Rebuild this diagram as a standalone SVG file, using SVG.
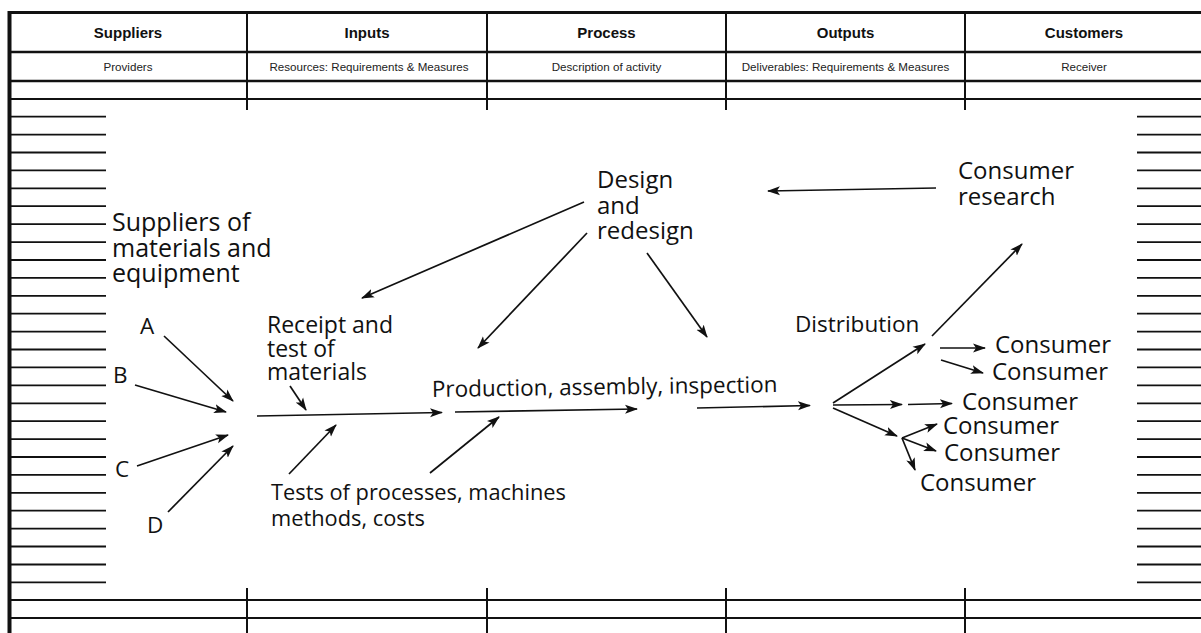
<svg xmlns="http://www.w3.org/2000/svg" width="1201" height="633" viewBox="0 0 1201 633">
<defs>
<style>
.hd{font-family:"Liberation Sans",Arial,sans-serif;font-weight:bold;font-size:15px;fill:#111;text-anchor:middle}
.sb{font-family:"Liberation Sans",Arial,sans-serif;font-size:11.6px;fill:#222;text-anchor:middle}
.tx{font-family:"Open Sans","DejaVu Sans",sans-serif;font-size:22.5px;fill:#111}
.s25{font-size:25px}
.s24{font-size:24px}
.s23{font-size:23px}
.s22{font-size:21.8px}
.tb{stroke:#111;fill:none}
.st{stroke:#111;stroke-width:1.8}
.ar{stroke:#111;stroke-width:1.7;fill:none;marker-end:url(#ah)}
</style>
<marker id="ah" markerUnits="userSpaceOnUse" markerWidth="14" markerHeight="10" refX="12" refY="5" orient="auto">
<path d="M0,0.5 L13,5 L0,9.5 L3,5 Z" fill="#111"/>
</marker>
</defs>
<rect width="1201" height="633" fill="#fff"/>

<g id="table">
<line class="tb" x1="8" y1="12.5" x2="1201" y2="12.5" stroke-width="3"/>
<line class="tb" x1="9.5" y1="11" x2="9.5" y2="633" stroke-width="4"/>
<line class="tb" x1="9" y1="52" x2="1201" y2="52" stroke-width="2.5"/>
<line class="tb" x1="9" y1="81" x2="1201" y2="81" stroke-width="2.5"/>
<line class="tb" x1="9" y1="99" x2="1201" y2="99" stroke-width="2.2"/>
<line class="tb" x1="247" y1="12" x2="247" y2="110" stroke-width="2"/>
<line class="tb" x1="487" y1="12" x2="487" y2="110" stroke-width="2"/>
<line class="tb" x1="726" y1="12" x2="726" y2="110" stroke-width="2"/>
<line class="tb" x1="965" y1="12" x2="965" y2="110" stroke-width="2"/>
<line class="tb" x1="9" y1="600" x2="1201" y2="600" stroke-width="1.8"/>
<line class="tb" x1="9" y1="618" x2="1201" y2="618" stroke-width="1.8"/>
<line class="tb" x1="247" y1="588" x2="247" y2="633" stroke-width="2"/>
<line class="tb" x1="487" y1="588" x2="487" y2="633" stroke-width="2"/>
<line class="tb" x1="726" y1="588" x2="726" y2="633" stroke-width="2"/>
<line class="tb" x1="965" y1="588" x2="965" y2="633" stroke-width="2"/>
<text class="hd" x="128" y="38">Suppliers</text>
<text class="hd" x="367" y="38">Inputs</text>
<text class="hd" x="606.5" y="38">Process</text>
<text class="hd" x="845.5" y="38">Outputs</text>
<text class="hd" x="1084" y="38">Customers</text>
<text class="sb" x="128" y="71">Providers</text>
<text class="sb" x="369" y="71">Resources: Requirements &amp; Measures</text>
<text class="sb" x="606.5" y="71">Description of activity</text>
<text class="sb" x="845.5" y="71">Deliverables: Requirements &amp; Measures</text>
<text class="sb" x="1084" y="71">Receiver</text>
</g>

<g id="stripes-left">
<path class="st" d="M10,116.7H106M10,134.6H106M10,152.5H106M10,170.4H106M10,188.3H106M10,206.2H106M10,224.2H106M10,242.1H106M10,260H106M10,277.9H106M10,295.8H106M10,313.7H106M10,331.6H106M10,349.5H106M10,367.4H106M10,385.4H106M10,403.3H106M10,421.2H106M10,439.1H106M10,457H106M10,474.9H106M10,492.8H106M10,510.7H106M10,528.6H106M10,546.5H106M10,564.5H106M10,582.4H106"/>
</g>
<g id="stripes-right">
<path class="st" d="M1137,116.7H1201M1137,134.6H1201M1137,152.5H1201M1137,170.4H1201M1137,188.3H1201M1137,206.2H1201M1137,224.2H1201M1137,242.1H1201M1137,260H1201M1137,277.9H1201M1137,295.8H1201M1137,313.7H1201M1137,331.6H1201M1137,349.5H1201M1137,367.4H1201M1137,385.4H1201M1137,403.3H1201M1137,421.2H1201M1137,439.1H1201M1137,457H1201M1137,474.9H1201M1137,492.8H1201M1137,510.7H1201M1137,528.6H1201M1137,546.5H1201M1137,564.5H1201M1137,582.4H1201"/>
</g>

<g id="suppliers"><text class="tx s25" x="112" y="231">Suppliers of</text><text class="tx s25" x="112" y="257">materials and</text><text class="tx s25" x="112" y="282">equipment</text></g>
<g id="sA"><text class="tx" x="140" y="334">A</text></g>
<g id="sB"><text class="tx" x="113" y="383">B</text></g>
<g id="sC"><text class="tx" x="115" y="477">C</text></g>
<g id="sD"><text class="tx" x="147" y="533">D</text></g>
<g id="receipt"><text class="tx s23" x="267" y="333">Receipt and</text><text class="tx s23" x="267" y="357">test of</text><text class="tx s23" x="267" y="380">materials</text></g>
<g id="design"><text class="tx s24" x="597" y="188">Design</text><text class="tx s24" x="597" y="214">and</text><text class="tx s24" x="597" y="239">redesign</text></g>
<g id="production"><text class="tx" x="432" y="397" transform="rotate(-0.8 432 397)">Production, assembly, inspection</text></g>
<g id="tests"><text class="tx s22" x="271" y="500">Tests of processes, machines</text><text class="tx s22" x="271" y="526">methods, costs</text></g>
<g id="research"><text class="tx s24" x="958" y="179">Consumer</text><text class="tx s24" x="958" y="205">research</text></g>
<g id="distribution"><text class="tx" x="795" y="332">Distribution</text></g>
<g id="consumers">
<text class="tx s24" x="995" y="353">Consumer</text>
<text class="tx s24" x="992" y="380">Consumer</text>
<text class="tx s24" x="962" y="410">Consumer</text>
<text class="tx s24" x="943" y="434">Consumer</text>
<text class="tx s24" x="944" y="461">Consumer</text>
<text class="tx s24" x="920" y="491">Consumer</text>
</g>

<g id="connectors">
<line class="ar" x1="164" y1="336" x2="233" y2="401"/>
<line class="ar" x1="135" y1="385" x2="226" y2="412"/>
<line class="ar" x1="137" y1="466" x2="228" y2="435"/>
<line class="ar" x1="168" y1="512" x2="233" y2="446"/>
<line class="ar" x1="257" y1="416" x2="442" y2="412.5"/>
<line class="ar" x1="290" y1="386" x2="306" y2="410"/>
<line class="ar" x1="289" y1="474" x2="336" y2="425"/>
<line class="ar" x1="455" y1="412" x2="637" y2="409"/>
<line class="ar" x1="430" y1="473" x2="499" y2="417"/>
<line class="ar" x1="697" y1="408" x2="810" y2="405.5"/>
<line class="ar" x1="584" y1="202" x2="362" y2="298"/>
<line class="ar" x1="587" y1="233" x2="478" y2="348"/>
<line class="ar" x1="647" y1="253" x2="707" y2="337"/>
<line class="ar" x1="936" y1="188" x2="768" y2="191"/>
<line class="ar" x1="932" y1="336" x2="1022" y2="244"/>
<line class="ar" x1="833" y1="403" x2="925" y2="344"/>
<line class="ar" x1="940" y1="348" x2="985" y2="348"/>
<line class="ar" x1="941" y1="360" x2="983" y2="373"/>
<line class="ar" x1="833" y1="405" x2="902" y2="404.5"/>
<line class="ar" x1="908" y1="404.5" x2="952" y2="403.5"/>
<line class="ar" x1="833" y1="408" x2="897" y2="436"/>
<line class="ar" x1="902" y1="438" x2="937" y2="424"/>
<line class="ar" x1="902" y1="438" x2="936" y2="451"/>
<line class="ar" x1="902" y1="438" x2="915" y2="470"/>
</g>
</svg>
